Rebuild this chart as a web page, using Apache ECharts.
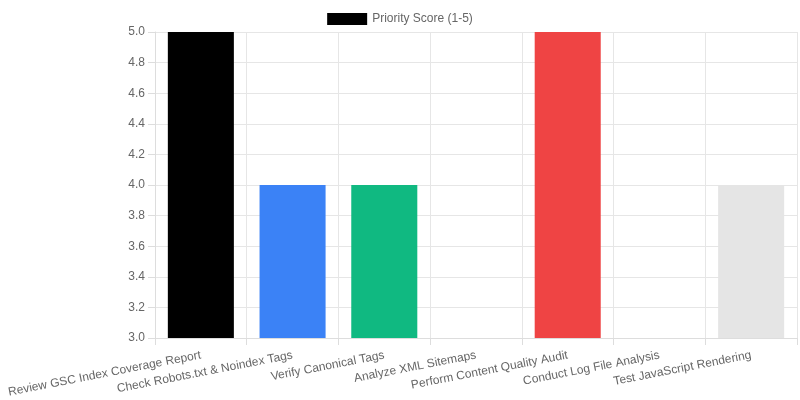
<!DOCTYPE html>
<html>
<head>
<meta charset="utf-8">
<script src="https://cdn.jsdelivr.net/npm/echarts@6/dist/echarts.min.js"></script>
<style>html,body{margin:0;padding:0;background:#fff}#c{width:800px;height:400px}</style>
</head>
<body>
<div id="c"></div>
<script>
const categories = ["Review GSC Index Coverage Report","Check Robots.txt & Noindex Tags","Verify Canonical Tags","Analyze XML Sitemaps","Perform Content Quality Audit","Conduct Log File Analysis","Test JavaScript Rendering"];
const values = [5, 4, 4, 3, 5, 3, 4];
const colors = ["#000000","#3b82f6","#10b981","#f59e0b","#ef4444","#8b5cf6","#e5e5e5"];
const seriesName = "Priority Score (1-5)";

const chart = echarts.init(document.getElementById('c'), null, {renderer:'canvas'});
const font = 'Liberation Sans, Arial, Helvetica, sans-serif';
chart.setOption({
  animation:false,
  textStyle:{fontFamily:font},
  legend:{top:8,left:'center',itemWidth:40,itemHeight:12,itemGap:10,icon:'rect',
    textStyle:{color:'#666',fontSize:12,fontFamily:font},
    data:[{name:seriesName,itemStyle:{color:'#000'}}]},
  grid:{left:155,right:3,top:32,bottom:62,containLabel:false},
  xAxis:{type:'category',data:categories,
    axisLine:{show:true,lineStyle:{color:'#ddd'}},
    axisTick:{show:true,alignWithLabel:false,length:7,lineStyle:{color:'#ddd'}},
    splitLine:{show:true,lineStyle:{color:'#e6e6e6'}},
    axisLabel:{rotate:11,color:'#666',fontSize:12,fontFamily:font,interval:0,margin:17}},
  yAxis:{type:'value',min:3,max:5,interval:0.2,
    axisLine:{show:true,lineStyle:{color:'#ddd'}},
    axisTick:{show:true,length:7,lineStyle:{color:'#ddd'}},
    splitLine:{show:true,lineStyle:{color:'#e6e6e6'}},
    axisLabel:{color:'#666',fontSize:12,fontFamily:font,formatter:v=>v.toFixed(1),margin:10}},
  series:[{name:seriesName,type:'bar',barWidth:'72%',
    data:values.map((v,i)=>({value:v,itemStyle:{color:colors[i]}}))}]
});
</script>
</body>
</html>
